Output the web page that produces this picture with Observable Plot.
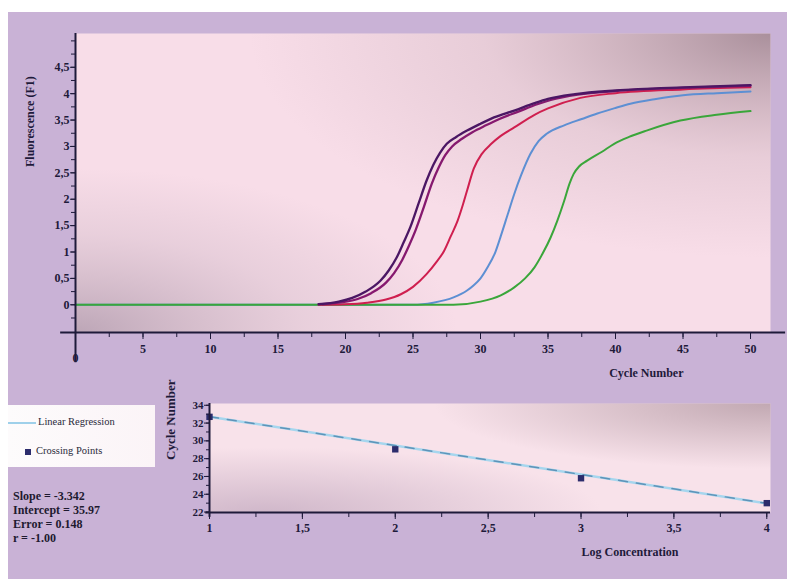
<!DOCTYPE html>
<html>
<head>
<meta charset="utf-8">
<script src="https://cdn.jsdelivr.net/npm/d3@7"></script>
<script src="https://cdn.jsdelivr.net/npm/@observablehq/plot@0.6"></script>
<style>
  body { margin: 0; background: #fff; }
  #page { position: relative; width: 787px; height: 579px; overflow: hidden; font-family: "Liberation Serif", "DejaVu Serif", serif; }
  #frameBg { position: absolute; left: 8px; top: 12px; right: 0; bottom: 0; background: #c9b2d6; }
  #top, #bot { position: absolute; left: 0; }
  #top { top: 0; }
  #bot { top: 390px; }
  #legend { position: absolute; left: 8px; top: 405px; width: 147px; height: 62px;
            background: linear-gradient(90deg, #fdfbfc 0%, #fbf4f7 100%); }
  #legend .row { position: absolute; left: 0; font-size: 10.5px; color: #2a2a3a; white-space: nowrap; }
  #stats { position: absolute; left: 13px; top: 489px; font-size: 12px; font-weight: bold; line-height: 14px; color: #1e1a30; white-space: pre; }
</style>
</head>
<body>
<div id="page">
  <div id="frameBg"></div>
  <svg width="0" height="0" style="position:absolute">
    <defs>
      <radialGradient id="tTR" cx="1" cy="0" r="0.75">
        <stop offset="0" stop-color="#9c828e" stop-opacity="0.85"/>
        <stop offset="0.55" stop-color="#b79ca8" stop-opacity="0.25"/>
        <stop offset="1" stop-color="#b79ca8" stop-opacity="0"/>
      </radialGradient>
      <radialGradient id="tBL" cx="0" cy="1" r="0.55">
        <stop offset="0" stop-color="#b29cae" stop-opacity="0.85"/>
        <stop offset="0.6" stop-color="#c4afbf" stop-opacity="0.3"/>
        <stop offset="1" stop-color="#c4afbf" stop-opacity="0"/>
      </radialGradient>
      <radialGradient id="bTR" cx="1" cy="0" r="0.6">
        <stop offset="0" stop-color="#b49aa4" stop-opacity="0.8"/>
        <stop offset="1" stop-color="#b49aa4" stop-opacity="0"/>
      </radialGradient>
      <radialGradient id="bBL" cx="0.1" cy="1" r="0.6">
        <stop offset="0" stop-color="#c6adc2" stop-opacity="0.8"/>
        <stop offset="1" stop-color="#c6adc2" stop-opacity="0"/>
      </radialGradient>
    </defs>
  </svg>
  <div id="top"></div>
  <div id="bot"></div>
  <div id="legend">
    <div class="row" style="top:11px;">
      <span style="display:inline-block;width:28px;height:2px;background:#9fd0ea;vertical-align:middle;margin-right:2px;"></span><span id="lg1"></span>
    </div>
    <div class="row" style="top:40px;left:17px;">
      <span style="display:inline-block;width:6px;height:6px;background:#2c2c6c;vertical-align:middle;margin-right:5px;"></span><span id="lg2"></span>
    </div>
  </div>
  <div id="stats"></div>
</div>
<script>
// ---------- Top chart: amplification curves ----------
const purpleACycles = [18,19.5,20.5,21.5,22.6,23.2,23.8,24.3,24.8,25.4,26,26.5,27,27.5,28.2,29,30,31,32.5,34,35,37,40,45,50];
const purpleAValues = [0.01,0.06,0.13,0.25,0.46,0.65,0.9,1.18,1.47,1.91,2.35,2.65,2.88,3.05,3.18,3.3,3.43,3.55,3.68,3.82,3.9,3.99,4.06,4.12,4.16];
const purpleBCycles = [18.3,19.8,20.9,21.9,23,23.6,24.2,24.7,25.2,25.8,26.4,26.9,27.4,27.9,28.6,29.4,30.4,31.4,32.8,34.2,35.2,37.2,40,45,50];
const purpleBValues = [0.01,0.05,0.11,0.22,0.42,0.6,0.85,1.12,1.42,1.85,2.3,2.6,2.84,3.0,3.14,3.27,3.4,3.52,3.66,3.8,3.88,3.98,4.05,4.11,4.15];
const redCycles = [18,20,21.6,23,24.1,25,26,26.7,27.3,27.8,28.3,28.7,29,29.5,30.1,30.8,31.5,32.5,34,35,37.4,40,45,50];
const redValues = [0,0.01,0.04,0.1,0.2,0.34,0.58,0.8,1.02,1.3,1.59,1.9,2.16,2.58,2.86,3.05,3.2,3.36,3.6,3.72,3.92,4.01,4.08,4.12];
const blueCycles = [0,25,26.5,28,29,29.5,30,30.5,31.1,31.5,32,32.5,33,33.7,34.3,34.9,36.2,37.5,38.6,40,41.1,43,45,47.5,50];
const blueValues = [0,0,0.04,0.14,0.27,0.37,0.5,0.7,1.0,1.3,1.7,2.1,2.45,2.86,3.1,3.24,3.4,3.52,3.62,3.73,3.81,3.9,3.97,4.01,4.04];
const greenCycles = [0,28,30,31.5,32.5,33.3,34,34.6,35.2,35.7,36.2,36.6,36.9,37.3,37.9,39,39.9,41,42.3,44.8,47.5,50];
const greenValues = [0,0,0.06,0.18,0.33,0.5,0.71,0.97,1.28,1.6,1.97,2.3,2.48,2.62,2.73,2.9,3.05,3.18,3.3,3.49,3.6,3.67];

const seriesNames = ["purpleA","purpleB","red","blue","green"];
const seriesColors = ["#4b1764","#86196f","#cf1f4f","#5d8fd3","#3aa63a"];

const topXTicks = [5,10,15,20,25,30,35,40,45,50];
const topXMinor = [2.5,5,7.5,10,12.5,15,17.5,20,22.5,25,27.5,30,32.5,35,37.5,40,42.5,45,47.5,50];
const topYTicks = [0,0.5,1,1.5,2,2.5,3,3.5,4,4.5];
const topYMinor = [-0.25,0,0.25,0.5,0.75,1,1.25,1.5,1.75,2,2.25,2.5,2.75,3,3.25,3.5,3.75,4,4.25,4.5,4.75,5];

const topTitleY = "Fluorescence (F1)";
const topTitleX = "Cycle Number";

// ---------- Bottom chart: standard curve ----------
const logConc = [1,2,3,4];
const crossingPoints = [32.7,29.05,25.8,23.0];
const regLogConc = [1,4];
const regCycle = [32.72,22.98];
const botXTicks = [1,1.5,2,2.5,3,3.5,4];
const botXMinor = [1,1.25,1.5,1.75,2,2.25,2.5,2.75,3,3.25,3.5,3.75,4];
const botYTicks = [22,24,26,28,30,32,34];
const botYMinor = [22,23,24,25,26,27,28,29,30,31,32,33,34];
const botTitleY = "Cycle Number";
const botTitleX = "Log Concentration";
const legendLabels = ["Linear Regression","Crossing Points"];
const statsLines = ["Slope = -3.342","Intercept = 35.97","Error = 0.148","r = -1.00"];

const comma = d => String(d).replace(".", ",");
const axisColor = "#1e1a3a";
const baseStyle = {background: "transparent", fontFamily: "'Liberation Serif', 'DejaVu Serif', serif", fontSize: "12px", fontWeight: "bold", color: axisColor, overflow: "visible"};

const rows = (name, xs, ys) => xs.map((x, i) => ({s: name, x, y: ys[i]}));
const topData = {
  purpleA: rows("purpleA", purpleACycles, purpleAValues),
  purpleB: rows("purpleB", purpleBCycles, purpleBValues),
  red: rows("red", redCycles, redValues),
  blue: rows("blue", blueCycles, blueValues),
  green: rows("green", greenCycles, greenValues)
};
const drawOrder = ["blue","green","red","purpleB","purpleA"];

const yBottomTop = -0.525;
const topPlot = Plot.plot({
  width: 787, height: 390,
  marginLeft: 75, marginRight: 17, marginTop: 33, marginBottom: 58,
  style: baseStyle,
  x: {domain: [0, 51.48]},
  y: {domain: [yBottomTop, 5.14]},
  marks: [
    Plot.frame({fill: "#f8dde8"}),
    Plot.frame({fill: "url(#tBL)"}),
    Plot.frame({fill: "url(#tTR)"}),
    ...drawOrder.map(n => Plot.line(topData[n], {x: "x", y: "y", stroke: seriesColors[seriesNames.indexOf(n)], strokeWidth: n.startsWith("purple") ? 2.3 : 2, curve: "monotone-x"})),
    Plot.ruleY([yBottomTop], {x1: -1.1, x2: 52.6, stroke: axisColor, strokeWidth: 2}),
    Plot.ruleX([0], {y1: -1.1, y2: 5.14, stroke: axisColor, strokeWidth: 2}),
    Plot.axisY({ticks: topYTicks, tickFormat: comma, tickSize: 5, tickPadding: 1, stroke: axisColor, fill: axisColor, label: null}),
    Plot.axisY({ticks: topYMinor, tickFormat: () => "", tickSize: 4, stroke: axisColor, label: null}),
    Plot.axisX({ticks: topXTicks, tickFormat: d => d, tickSize: 7, tickPadding: 5, stroke: axisColor, fill: axisColor, label: null}),
    Plot.axisX({ticks: topXMinor, tickFormat: () => "", tickSize: 5, stroke: axisColor, label: null}),
    Plot.text([0], {x: d => d, y: yBottomTop, dy: 26, text: d => String(d), fill: axisColor}),
    Plot.text([topTitleY], {frameAnchor: "left", dx: -45, dy: -16, rotate: -90, text: d => d, fill: axisColor}),
    Plot.text([topTitleX], {frameAnchor: "bottom-right", dx: -87, dy: 44, text: d => d, fill: axisColor})
  ]
});
document.getElementById("top").appendChild(topPlot);

const pts = logConc.map((x, i) => ({x, y: crossingPoints[i]}));
const reg = regLogConc.map((x, i) => ({x, y: regCycle[i]}));
const botPlot = Plot.plot({
  width: 787, height: 189,
  marginLeft: 209, marginRight: 17, marginTop: 13, marginBottom: 67,
  style: baseStyle,
  x: {domain: [1, 4.02]},
  y: {domain: [21.95, 34.2]},
  marks: [
    Plot.frame({fill: "#f8e2ea"}),
    Plot.frame({fill: "url(#bBL)"}),
    Plot.frame({fill: "url(#bTR)"}),
    Plot.line(reg, {x: "x", y: "y", stroke: "#a6d6ee", strokeWidth: 2.5}),
    Plot.line(reg, {x: "x", y: "y", stroke: "#5f93b8", strokeWidth: 1.5, strokeDasharray: "9,9"}),
    Plot.dot(pts, {x: "x", y: "y", symbol: "square", r: 3.6, fill: "#2c2c6c", stroke: "none"}),
    Plot.ruleY([21.95], {x1: 0.98, x2: 4.02, stroke: axisColor, strokeWidth: 2}),
    Plot.ruleX([1], {y1: 21.4, y2: 34.2, stroke: axisColor, strokeWidth: 2}),
    Plot.axisY({ticks: botYTicks, tickFormat: d => d, tickSize: 5, tickPadding: 1, stroke: axisColor, fill: axisColor, fontSize: 11, label: null}),
    Plot.axisY({ticks: botYMinor, tickFormat: () => "", tickSize: 3, stroke: axisColor, label: null}),
    Plot.axisX({ticks: botXTicks, tickFormat: comma, tickSize: 7, tickPadding: 4, stroke: axisColor, fill: axisColor, label: null}),
    Plot.axisX({ticks: botXMinor, tickFormat: () => "", tickSize: 5, stroke: axisColor, label: null}),
    Plot.text([botTitleY], {frameAnchor: "left", dx: -39, dy: 2, rotate: -90, text: d => d, fill: axisColor, fontSize: 13}),
    Plot.text([botTitleX], {frameAnchor: "bottom-right", dx: -92, dy: 43, text: d => d, fill: axisColor})
  ]
});
document.getElementById("bot").appendChild(botPlot);

document.getElementById("lg1").textContent = legendLabels[0];
document.getElementById("lg2").textContent = legendLabels[1];
document.getElementById("stats").textContent = statsLines.join("\n");
</script>
</body>
</html>
